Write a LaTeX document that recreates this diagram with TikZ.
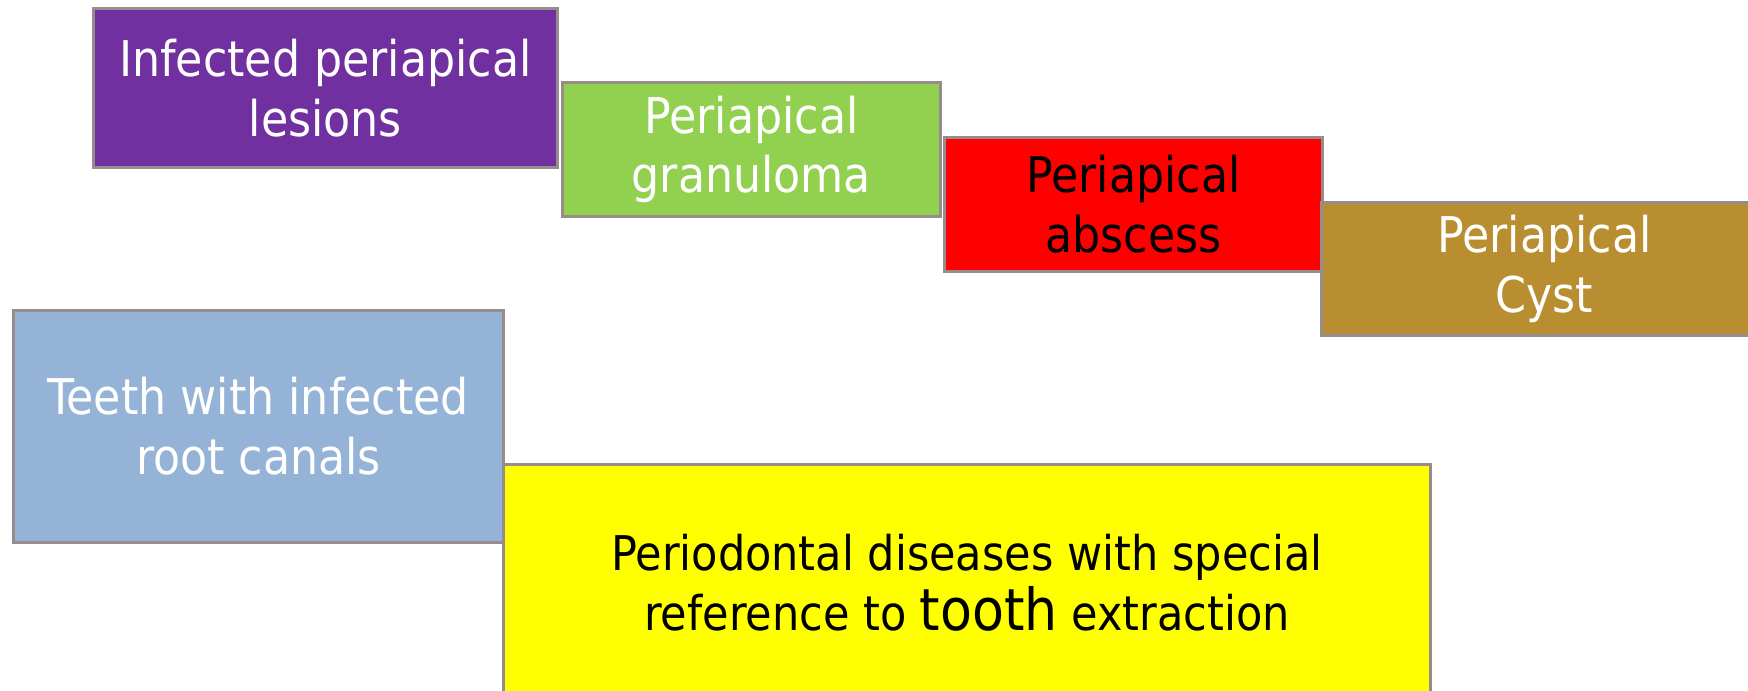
\documentclass[tikz,border=0pt]{standalone}
\usepackage{fontspec}
\setmainfont{DejaVu Sans Condensed}
\definecolor{lesionpurple}{RGB}{112,48,160}
\definecolor{granugreen}{RGB}{146,208,80}
\definecolor{abscessred}{RGB}{255,0,0}
\definecolor{cystgold}{RGB}{185,142,48}
\definecolor{canalblue}{RGB}{149,179,215}
\definecolor{periyellow}{RGB}{255,255,0}
\definecolor{edgegray}{RGB}{150,140,140}

\begin{document}
\begin{tikzpicture}[x=0.01cm,y=-0.01cm,
    box/.style={draw=edgegray,line width=0.8pt,anchor=north west,inner sep=0pt,
      align=center,font=\fontsize{14}{17}\selectfont},
  ]
      \useasboundingbox (0,0) rectangle (1748,691);
      \clip (0,0) rectangle (1748,691);

      % upper row, falling to the right
      \node [box,fill=lesionpurple,text=white,minimum width=464*0.01cm,minimum height=159*0.01cm]
        (lesion) at (92,7) {Infected periapical\\lesions};
      \node [box,fill=granugreen,text=white,minimum width=378*0.01cm,minimum height=134*0.01cm]
        (granuloma) at (561,81) {Periapical\\granuloma};
      \node [box,fill=abscessred,text=black,minimum width=378*0.01cm,minimum height=134*0.01cm]
        (abscess) at (943,136) {Periapical\\abscess};
      \node [box,fill=cystgold,text=white,minimum width=446*0.01cm,minimum height=133*0.01cm]
        (cyst) at (1320,201) {Periapical\\Cyst};

      % lower row
      \node [box,fill=canalblue,text=white,minimum width=490*0.01cm,minimum height=232*0.01cm]
        (canals) at (12,309) {Teeth with infected\\root canals};
      \node [box,fill=periyellow,text=black,minimum width=927*0.01cm,minimum height=237*0.01cm,
        font=\fontsize{13.6}{17}\selectfont]
        (perio) at (502,463) {Periodontal diseases with special\\reference to {\fontsize{16.5}{17}\selectfont tooth} extraction};

  \end{tikzpicture}
\end{document}
